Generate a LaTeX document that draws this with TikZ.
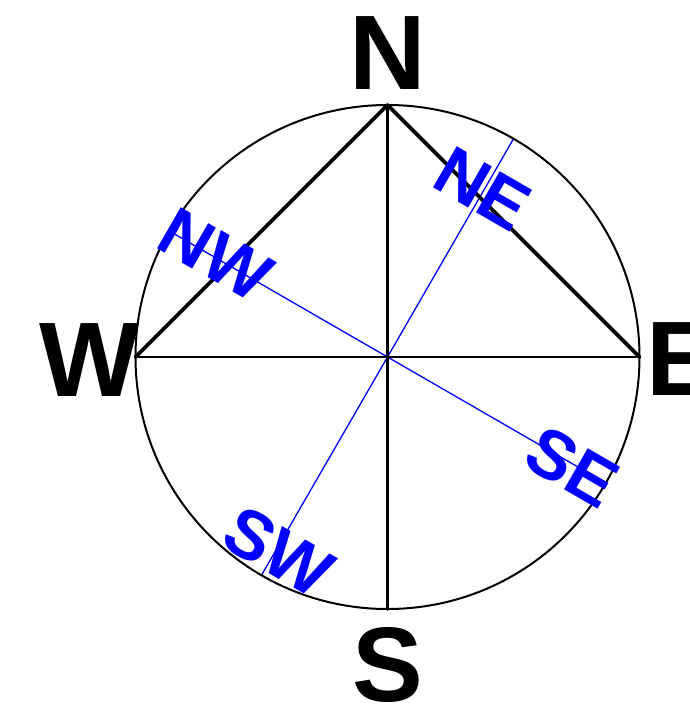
\documentclass[tikz,border=0pt]{standalone}
\usepackage{fontspec}
\setmainfont{Liberation Sans}
\begin{document}
\begin{tikzpicture}[x=1pt,y=-1pt,
  big/.style={font=\fontsize{106}{106}\selectfont\bfseries, inner sep=0pt, text height=76pt, text depth=0pt, anchor=center},
  small/.style={font=\fontsize{69}{69}\selectfont\bfseries, text=blue, inner sep=0pt, text height=49pt, text depth=0pt, anchor=center, rotate=-30},
  heavy/.style={line width=3.6pt, line cap=round, line join=round},
  thin/.style={draw=blue, line width=1.3pt}]
\useasboundingbox (0,0) rectangle (690,707);
\coordinate (O) at (387.5,357);
\coordinate (n) at (387.5,105);
\coordinate (s) at (387.5,609);
\coordinate (w) at (135.5,357);
\coordinate (e) at (639.5,357);
\coordinate (ne) at (513.5,138.8);
\coordinate (sw) at (261.5,575.2);
\coordinate (nw) at (169.3,231);
\coordinate (se) at (605.7,483);
% blue diameters
\draw[thin] (ne) -- (sw);
\draw[thin] (nw) -- (se);
% circle
\draw[line width=2pt] (O) circle[radius=252];
% black lines
\draw[line width=2.4pt] (w) -- (e);
\draw[heavy] (n) -- (s);
\draw[heavy] (w) -- (n) -- (e);
% labels
\node[big] (N) at (387.5,51.5) {N};
\node[big] (W) at (90,358.5) {W};
\node[big] (E) at (682,357.5) {E};
\node[big] (S) at (387.5,663) {S};
\node[small] (NE) at (483,188) {NE};
\node[small] (NW) at (216,254) {NW};
\node[small] (SE) at (573,466) {SE};
\node[small] (SW) at (279,551) {SW};
\end{tikzpicture}
\end{document}
